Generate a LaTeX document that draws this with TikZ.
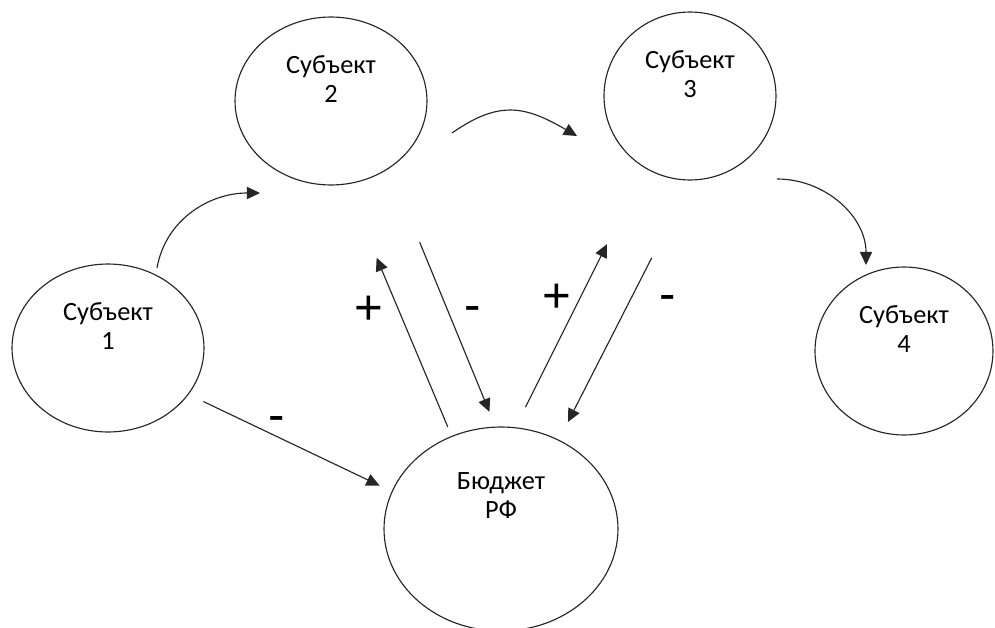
\documentclass[tikz,border=0pt]{standalone}
\usepackage{fontspec}
\setmainfont{Carlito}
\newfontfamily\signfont{Liberation Sans}
\usetikzlibrary{shapes.geometric,arrows.meta}

\begin{document}
\begin{tikzpicture}[x=0.02cm,y=0.02cm,
  ell/.style={draw=black!85,line width=0.65pt,ellipse,inner sep=0pt,outer sep=0pt},
  lbl/.style={anchor=north,inner sep=0pt,align=center,font=\fontsize{15}{17}\selectfont,yshift=-21.5pt},
  arr/.style={draw=black!85,line width=0.65pt,-{Triangle[length=7.5pt,width=7pt]}},
  sign/.style={font=\signfont\fontsize{28}{28}\selectfont,inner sep=0pt}]
\useasboundingbox (0,0) rectangle (995,627);

\node[ell,minimum width=3.84cm,minimum height=3.36cm,label={[lbl]north:Субъект\\1}] (s1) at (108,279) {};
\node[ell,minimum width=3.84cm,minimum height=3.36cm,label={[lbl]north:Субъект\\2}] (s2) at (331,526) {};
\node[ell,minimum width=3.44cm,minimum height=3.36cm,label={[lbl]north:Субъект\\3}] (s3) at (690,531) {};
\node[ell,minimum width=3.56cm,minimum height=3.36cm,label={[lbl]north:Субъект\\4}] (s4) at (904,276) {};
\node[ell,minimum width=4.68cm,minimum height=4.08cm,label={[lbl,yshift=-4pt]north:Бюджет\\РФ}] (b) at (501,98) {};

% между субъектами
\draw[arr] ([shift={(49,80)}]s1.center) to[out=80,in=180] ([shift={(-71,-92)}]s2.center);
\draw[arr] ([shift={(121,-32)}]s2.center) to[out=35,in=150,looseness=1.2] ([shift={(-113,-40)}]s3.center);
\draw[arr] ([shift={(87,-83)}]s3.center) to[out=0,in=90] ([shift={(-38,86)}]s4.center);

% с бюджетом
\draw[arr,shorten <=0.34cm,shorten >=0.28cm] (s1.-30) -- (b.161);
\draw[arr,shorten <=0.21cm,shorten >=1.6cm] (b.118) -- (s2.-80);
\draw[arr,shorten <=1.61cm,shorten >=0.33cm] (s2.-49) -- (b.93);
\draw[arr,shorten <=0.46cm,shorten >=1.71cm] (b.82) -- (s3.-122);
\draw[arr,shorten <=1.75cm,shorten >=0.41cm] (s3.-89) -- (b.57);

\node[sign] (m1) at (277,203) {-};
\node[sign] (p2) at (369,317) {+};
\node[sign] (m2) at (473,313) {-};
\node[sign] (p3) at (557,329) {+};
\node[sign] (m3) at (668,324) {-};

\end{tikzpicture}
\end{document}
